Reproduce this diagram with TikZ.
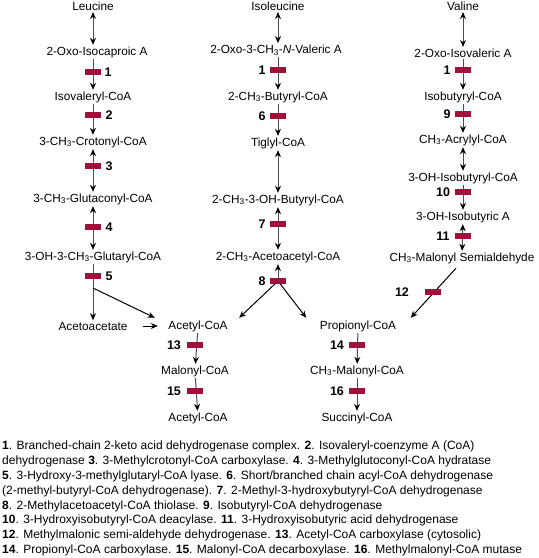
\documentclass[tikz,border=0pt]{standalone}
\usepackage{fontspec}
\setmainfont{Liberation Sans}
\usepackage{tikz}
\usetikzlibrary{arrows.meta}
\definecolor{barred}{RGB}{160,16,58}
\newcommand{\meth}{CH\textsubscript{3}}

\begin{document}
\begin{tikzpicture}[x=1pt, y=-1pt,
    every node/.style={font=\fontsize{11.8}{13}\selectfont, inner sep=1.5pt},
    step num/.style={font=\fontsize{12.5}{14}\selectfont\bfseries, inner sep=0pt},
    enzbar/.style={fill=barred, minimum width=16pt, minimum height=5.5pt, inner sep=0pt},
    fwd/.style={draw=black!70, line width=1pt, -{Stealth[length=7pt,width=6pt,black]}},
    rev/.style={draw=black!70, line width=1pt, {Stealth[length=7pt,width=6pt,black]}-{Stealth[length=7pt,width=6pt,black]}}]

    \useasboundingbox (0,0) rectangle (539,558);

    % Nodes: leucine
    \node at (93,6) (leu) {Leucine};
    \node at (97,52) (oxoiso) {2-Oxo-Isocaproic A};
    \node at (93,97) (isoval) {Isovaleryl-CoA};
    \node at (93,142) (croton) {3-\meth-Crotonyl-CoA};
    \node at (93,199) (glutac) {3-\meth-Glutaconyl-CoA};
    \node at (93,257) (glutar) {3-OH-3-\meth-Glutaryl-CoA};
    \node at (93,326) (acac) {Acetoacetate};

    % Nodes: isoleucine
    \node at (278,6) (ile) {Isoleucine};
    \node at (276,50) (oxoval) {2-Oxo-3-\meth-\textit{N}-Valeric A};
    \node at (278,97) (mebut) {2-\meth-Butyryl-CoA};
    \node at (278,143) (tigl) {Tiglyl-CoA};
    \node at (278,200) (ohbut) {2-\meth-3-OH-Butyryl-CoA};
    \node at (278,257) (meacac) {2-\meth-Acetoacetyl-CoA};

    % Nodes: valine
    \node at (463,6) (val) {Valine};
    \node at (463,53) (oxoisoval) {2-Oxo-Isovaleric A};
    \node at (463,97) (isobut) {Isobutyryl-CoA};
    \node at (463,140) (acryl) {\meth-Acrylyl-CoA};
    \node at (463,178) (ohisobut) {3-OH-Isobutyryl-CoA};
    \node at (463,217) (ohisoa) {3-OH-Isobutyric A};
    \node at (462,258) (semiald) {\meth-Malonyl Semialdehyde};

    % Nodes: bottom
    \node at (198,326) (acetyl) {Acetyl-CoA};
    \node at (195,371) (malonyl) {Malonyl-CoA};
    \node at (198,418) (acetyltwo) {Acetyl-CoA};
    \node at (358,326) (propionyl) {Propionyl-CoA};
    \node at (357,371) (memalonyl) {\meth-Malonyl-CoA};
    \node at (357,418) (succinyl) {Succinyl-CoA};

    \coordinate (j5) at (93,288);
    \coordinate (j8) at (278,281);

    % Arrows
    \draw[rev] (leu) -- (leu |- oxoiso.north);
    \draw[fwd] (oxoiso.south -| leu) -- (isoval);
    \draw[fwd] (isoval) -- (croton);
    \draw[rev] (croton) -- (glutac);
    \draw[rev] (glutac) -- (glutar);
    \draw[fwd] (glutar) -- (acac);
    \draw[fwd, draw=black] (j5) -- ([shift={(-12,-1)}]acetyl.north west);
    \draw[fwd, draw=black, shorten <=14pt, shorten >=9pt] (acac) -- (acetyl);

    \draw[rev] (ile) -- (ile |- oxoval.north);
    \draw[fwd] (oxoval.south -| ile) -- (mebut);
    \draw[fwd] (mebut) -- (tigl);
    \draw[rev] (tigl) -- (ohbut);
    \draw[rev] (ohbut) -- (meacac);
    \draw[fwd] (j8) -- (meacac);
    \draw[fwd, draw=black] (j8) -- ([shift={(10,-1)}]acetyl.north east);
    \draw[fwd, draw=black] (j8) -- ([shift={(-12,-1)}]propionyl.north west);

    \draw[rev] (val) -- (oxoisoval);
    \draw[fwd] (oxoisoval) -- (isobut);
    \draw[fwd] (isobut) -- (acryl);
    \draw[rev] (acryl) -- (ohisobut);
    \draw[fwd] (ohisobut) -- (ohisoa);
    \draw[rev] (ohisoa) -- (semiald);
    \draw[fwd, draw=black] ([shift={(-6,3)}]semiald.south) -- ([shift={(13,-1)}]propionyl.north east);

    \draw[fwd] (acetyl) -- (malonyl);
    \draw[fwd] (malonyl) -- (acetyltwo);
    \draw[fwd] (propionyl) -- (memalonyl);
    \draw[fwd] (memalonyl) -- (succinyl);

    % Enzyme bars and numbers
    \foreach \bx/\by/\lx/\lbl in {93/72/108/1, 93/115/109/2, 93/166/109/3, 93/227/109/4, 93/276/109/5,
        278/70/262/1, 278/116/262/6, 278/224/262/7, 278/281/262/8,
        463/70/447/1, 463/114/447/9, 463/192/443/10, 463/236/443/11, 433/292/402/12,
        195/345/174/13, 195/391/174/15, 357/345/337/14, 357/391/337/16}
      {
        \node[enzbar] at (\bx,\by) (bar\lbl) {};
        \node[step num] at (\lx,\by) (num\lbl) {\lbl};
      }

    % Legend
    \node[anchor=north west, align=left, inner sep=0pt,
          font=\fontsize{12}{14.8}\selectfont] at (2,441) (legend) {%
      \textbf{1}. Branched-chain 2-keto acid dehydrogenase complex. \textbf{2}. Isovaleryl-coenzyme A (CoA)\\
      dehydrogenase \textbf{3}. 3-Methylcrotonyl-CoA carboxylase. \textbf{4}. 3-Methylglutoconyl-CoA hydratase\\
      \textbf{5}. 3-Hydroxy-3-methylglutaryl-CoA lyase. \textbf{6}. Short/branched chain acyl-CoA dehydrogenase\\
      (2-methyl-butyryl-CoA dehydrogenase). \textbf{7}. 2-Methyl-3-hydroxybutyryl-CoA dehydrogenase\\
      \textbf{8}. 2-Methylacetoacetyl-CoA thiolase. \textbf{9}. Isobutyryl-CoA dehydrogenase\\
      \textbf{10}. 3-Hydroxyisobutyryl-CoA deacylase. \textbf{11}. 3-Hydroxyisobutyric acid dehydrogenase\\
      \textbf{12}. Methylmalonic semi-aldehyde dehydrogenase. \textbf{13}. Acetyl-CoA carboxylase (cytosolic)\\
      \textbf{14}. Propionyl-CoA carboxylase. \textbf{15}. Malonyl-CoA decarboxylase. \textbf{16}. Methylmalonyl-CoA mutase};

\end{tikzpicture}
\end{document}
